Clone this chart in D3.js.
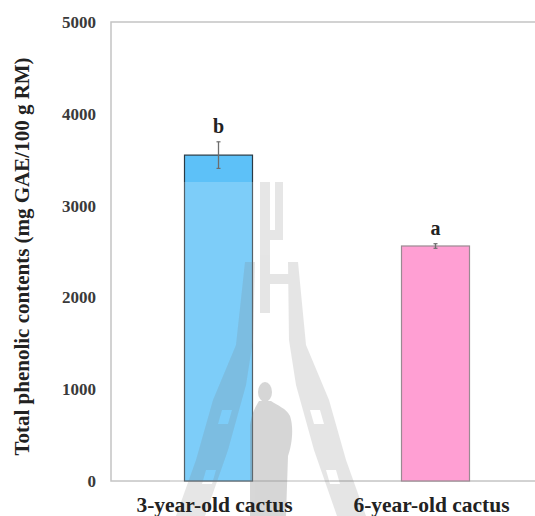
<!DOCTYPE html>
<html>
<head>
<meta charset="utf-8">
<script src="https://cdn.jsdelivr.net/npm/d3@7"></script>
<style>
  html, body { margin: 0; padding: 0; background: #fff; }
  svg { display: block; }
</style>
</head>
<body>
<svg id="chart" width="535" height="516"></svg>
<script>
// ---- data ----
const categories = ["3-year-old cactus", "6-year-old cactus"];
const values = [3550, 2560];
const errors = [145, 25];
const letters = ["b", "a"];
const yTicks = [0, 1000, 2000, 3000, 4000, 5000];
const barColors = ["#5dc1f8", "#ff9fd3"];
const barStrokes = ["#2a3a44", "#9a8a92"];

const svg = d3.select("#chart");
const plot = { left: 111, right: 544, top: 22, bottom: 481 };

const y = d3.scaleLinear().domain([0, 5000]).range([plot.bottom, plot.top]);
const x = d3.scalePoint().domain(categories).range([plot.left - 1, plot.right]).padding(0.5);
const barW = 68;
const serif = "'Liberation Serif', 'Times New Roman', serif";

// plot frame
svg.append("rect")
  .attr("x", plot.left).attr("y", plot.top)
  .attr("width", plot.right - plot.left).attr("height", plot.bottom - plot.top)
  .attr("fill", "#fff").attr("stroke", "#c4c4c4").attr("stroke-width", 1.5);

// bars
svg.selectAll("rect.bar").data(values).enter().append("rect")
  .attr("class", "bar")
  .attr("x", (d, i) => x(categories[i]) - barW / 2)
  .attr("y", d => y(d))
  .attr("width", barW)
  .attr("height", d => y(0) - y(d))
  .attr("fill", (d, i) => barColors[i])
  .attr("stroke", (d, i) => barStrokes[i])
  .attr("stroke-width", 1.2);

// error bars
const eg = svg.append("g");
values.forEach((v, i) => {
  const cx = x(categories[i]);
  eg.append("line").attr("x1", cx).attr("x2", cx)
    .attr("y1", y(v + errors[i])).attr("y2", y(v - errors[i]))
    .attr("stroke", "#6d6d6d").attr("stroke-width", 1.3);
  [v + errors[i], v - errors[i]].forEach(e => {
    eg.append("line").attr("x1", cx - 2).attr("x2", cx + 2)
      .attr("y1", y(e)).attr("y2", y(e))
      .attr("stroke", "#6d6d6d").attr("stroke-width", 1.2);
  });
});

// ---- watermark (decorative background logo, not data) ----
const wm = svg.append("g");
wm.append("rect").attr("x", 170).attr("y", 182).attr("width", 160).attr("height", 334)
  .attr("fill", "#fff").attr("opacity", 0.2);
const wg = wm.append("g").attr("fill", "#7a7a7a").attr("opacity", 0.19);
// central spire (H shape)
wg.append("path").attr("d",
  "M260,182 L270,182 L270,230 L275,230 L275,182 L283,182 L283,240 L270,240 L270,313 L260,313 Z");
// lower cross piece
wg.append("path").attr("d", "M270,274 L290,274 L290,284 L270,284 Z");
// left leg (tapered ladder)
wg.append("path").attr("fill-rule", "evenodd").attr("d",
  "M245,262 L255,262 L253,340 L246,385 L228,450 L205,516 L176,516 L196,460 L213,400 L236,345 Z " +
  "M222,410 L232,410 L228,424 L218,424 Z M206,470 L216,470 L212,484 L202,484 Z");
// right leg (tapered ladder)
wg.append("path").attr("fill-rule", "evenodd").attr("d",
  "M288,262 L298,262 L306,345 L329,400 L346,460 L366,516 L337,516 L314,450 L296,385 L289,340 Z " +
  "M310,410 L320,410 L324,424 L314,424 Z M326,470 L336,470 L340,484 L330,484 Z");
// person silhouette
const pg = wm.append("g").attr("fill", "#7a7a7a").attr("opacity", 0.3);
pg.append("ellipse").attr("cx", 265).attr("cy", 392).attr("rx", 7).attr("ry", 10);
pg.append("path").attr("d",
  "M259,401 L271,401 C278,406 286,408 290,416 C294,428 292,445 288,456 L286,516 L250,516 L250,425 C252,412 256,406 259,401 Z");

// y tick labels
svg.append("g").selectAll("text").data(yTicks).enter().append("text")
  .attr("x", 96).attr("y", d => y(d)).attr("dy", "0.35em")
  .attr("text-anchor", "end")
  .attr("font-family", serif)
  .attr("font-weight", "bold").attr("font-size", 17).attr("fill", "#3a3a3a")
  .text(d => d);

// x labels
svg.append("g").selectAll("text").data(categories).enter().append("text")
  .attr("x", d => x(d) - 4).attr("y", 512)
  .attr("text-anchor", "middle")
  .attr("font-family", serif)
  .attr("font-weight", "bold").attr("font-size", 21.5).attr("fill", "#222")
  .text(d => d);

// significance letters
svg.append("g").selectAll("text").data(letters).enter().append("text")
  .attr("x", (d, i) => x(categories[i]))
  .attr("y", (d, i) => y(values[i] + errors[i]) - 9)
  .attr("text-anchor", "middle")
  .attr("font-family", serif)
  .attr("font-weight", "bold").attr("font-size", 20).attr("fill", "#222")
  .text(d => d);

// y axis title
svg.append("text")
  .attr("transform", `translate(29,${(plot.top + plot.bottom) / 2 + 5}) rotate(-90)`)
  .attr("text-anchor", "middle")
  .attr("font-family", serif)
  .attr("font-weight", "bold").attr("font-size", 21).attr("fill", "#222")
  .text("Total phenolic contents (mg GAE/100 g RM)");
</script>
</body>
</html>
